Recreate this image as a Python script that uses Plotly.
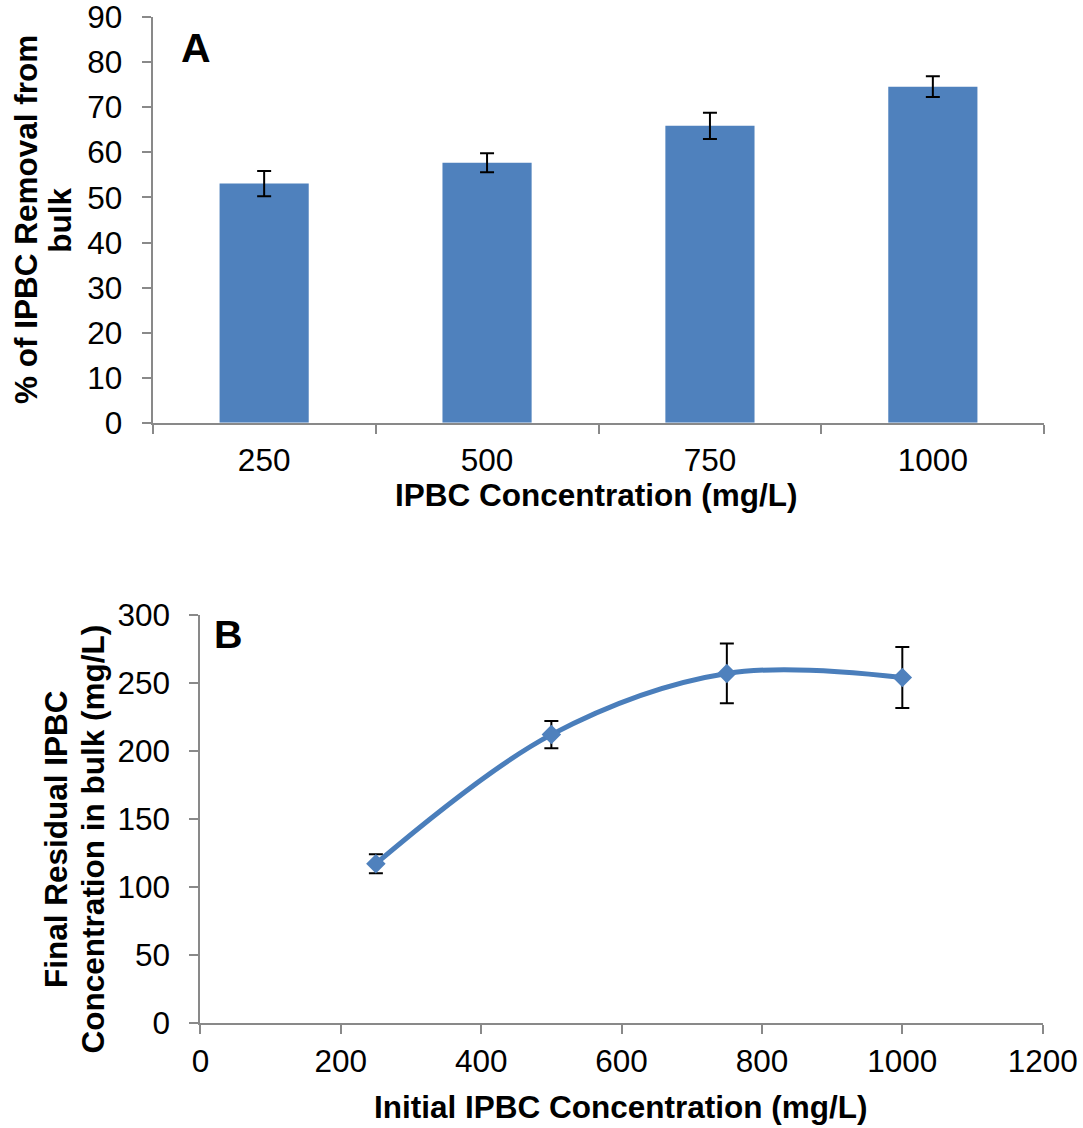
import plotly.graph_objects as go

# ---- data ----
conc_a = ["250", "500", "750", "1000"]
removal_pct = [53.1, 57.7, 65.9, 74.6]
removal_err = [2.8, 2.1, 2.9, 2.3]

conc_b = [250, 500, 750, 1000]
residual = [117, 212, 257, 254]
residual_err = [7, 10, 22, 22.5]

W, H = 1083, 1128
FONT = "Liberation Sans, Arial, sans-serif"
AXC = "#898989"


def fx(p):
    return p / W


def fy(p):
    return 1 - p / H


fig = go.Figure()

fig.add_trace(go.Bar(
    x=conc_a, y=removal_pct, width=0.4,
    marker=dict(color="#4F81BD", line=dict(width=0)),
    error_y=dict(type="data", array=removal_err, color="black", thickness=2, width=7),
    xaxis="x", yaxis="y", showlegend=False,
))

fig.add_trace(go.Scatter(
    x=conc_b, y=residual, mode="lines+markers",
    line=dict(color="#4A7EBB", width=5, shape="spline", smoothing=1),
    marker=dict(symbol="diamond", size=15, color="#4F81BD", line=dict(width=0)),
    error_y=dict(type="data", array=residual_err, color="black", thickness=2, width=7),
    xaxis="x2", yaxis="y2", showlegend=False,
))

axis_common = dict(
    showline=True, linecolor=AXC, linewidth=2, ticks="outside", ticklen=9,
    tickcolor=AXC, tickwidth=1.5, showgrid=False, zeroline=False,
    automargin=False, ticklabeloverflow="allow",
    tickfont=dict(family=FONT, size=31.5, color="black"),
)

fig.update_layout(
    width=W, height=H, autosize=False,
    margin=dict(l=0, r=0, t=0, b=0, pad=0, autoexpand=False),
    paper_bgcolor="white", plot_bgcolor="white",
    font=dict(family=FONT, color="black"),
    xaxis=dict(domain=[fx(152.7), fx(1044.3)], anchor="y", type="category",
               range=[-0.5, 3.5], tickson="boundaries", ticklabelstandoff=8,
               **axis_common),
    yaxis=dict(domain=[fy(422.7), fy(17.3)], anchor="x", range=[0, 90], dtick=10,
               tick0=0, ticklabelstandoff=13, **axis_common),
    xaxis2=dict(domain=[fx(200.4), fx(1042.7)], anchor="y2", range=[0, 1200],
                dtick=200, tick0=0, ticklabelstandoff=0, **axis_common),
    yaxis2=dict(domain=[fy(1022.7), fy(615)], anchor="x2", range=[0, 300],
                dtick=50, tick0=0, ticklabelstandoff=13, **axis_common),
)

ann = []


def add_text(text, x, y, size=31.5, angle=0):
    ann.append(dict(text=text, x=fx(x), y=fy(y), xref="paper", yref="paper",
                    xanchor="center", yanchor="middle", showarrow=False,
                    textangle=angle,
                    font=dict(family=FONT, size=size, color="black")))


add_text("<b>A</b>", 195.7, 48.3, size=41)
add_text("<b>B</b>", 228, 634, size=39.5)
add_text("<b>IPBC Concentration (mg/L)</b>", 596.5, 494.5)
add_text("<b>Initial IPBC Concentration (mg/L)</b>", 621, 1106.5)
add_text("<b>% of IPBC Removal from</b>", 26, 220, angle=-90)
add_text("<b>bulk</b>", 59.7, 220, angle=-90)
add_text("<b>Final Residual IPBC</b>", 56, 839, angle=-90)
add_text("<b>Concentration in bulk (mg/L)</b>", 93.4, 839, angle=-90)

fig.update_layout(annotations=ann)

fig.write_html("out.html")
